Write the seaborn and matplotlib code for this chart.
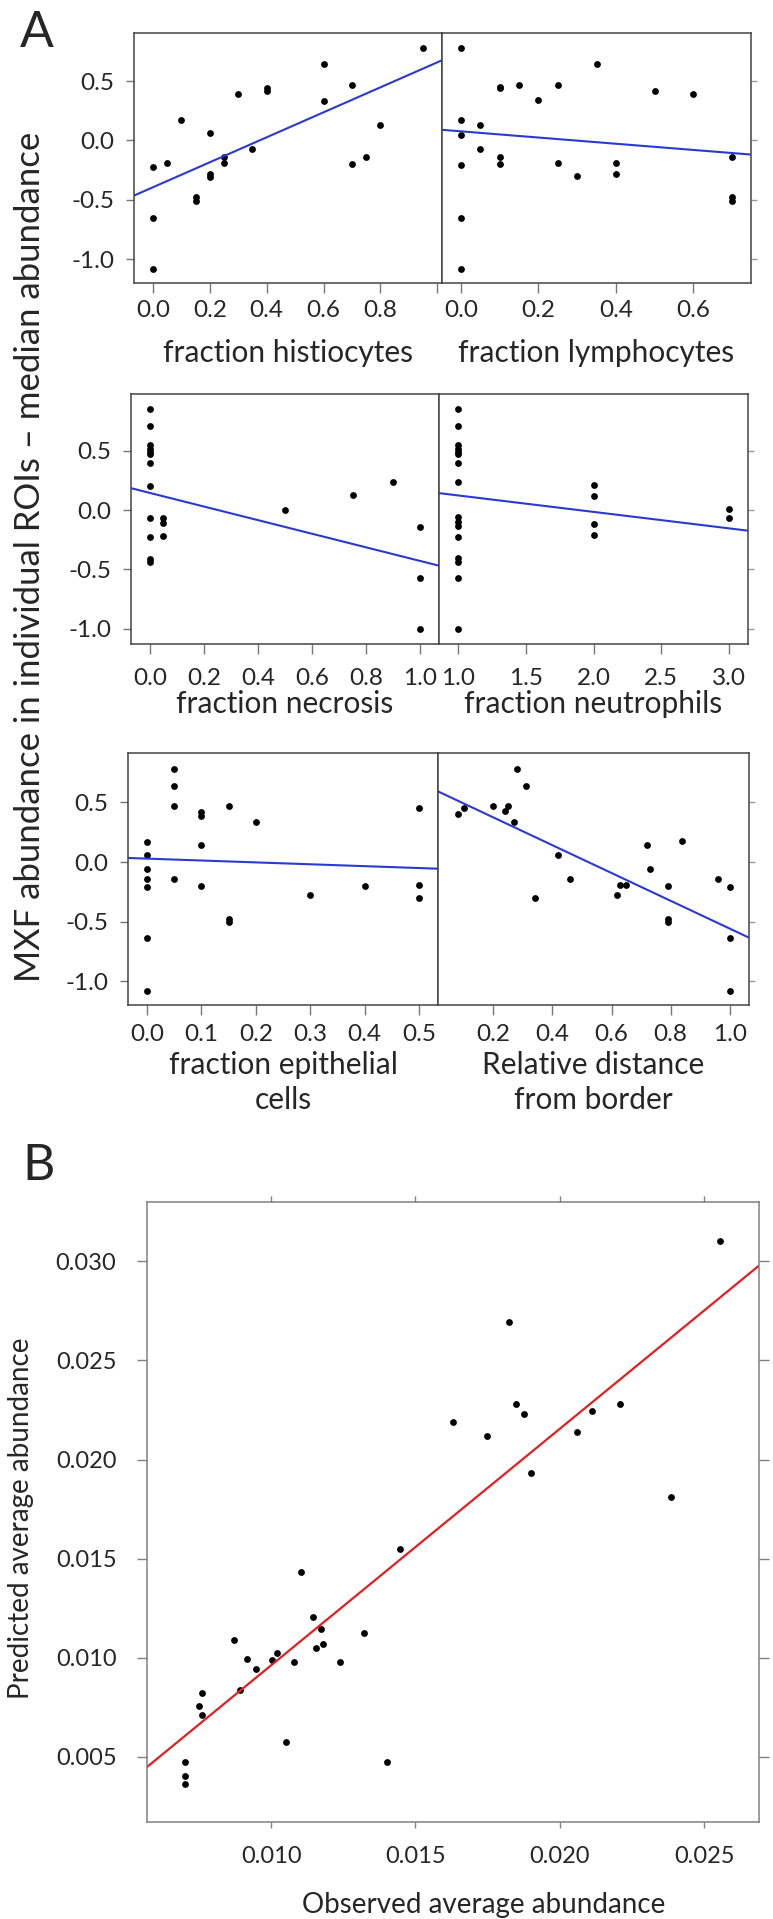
import numpy as np
import matplotlib
matplotlib.use("Agg")
import matplotlib.pyplot as plt
import seaborn as sns

# ---- panel A data (MXF abundance vs ROI features) ----
histio_x = [0, 0, 0, 0.05, 0.1, 0.15, 0.15, 0.2, 0.2, 0.2, 0.25, 0.25, 0.3, 0.35,
            0.4, 0.4, 0.6, 0.6, 0.7, 0.7, 0.75, 0.8, 0.95]
histio_y = [-0.22, -0.65, -1.08, -0.19, 0.17, -0.48, -0.51, 0.06, -0.28, -0.31, -0.14,
            -0.19, 0.39, -0.07, 0.44, 0.42, 0.64, 0.33, 0.47, -0.20, -0.14, 0.13, 0.78]

lymph_x = [0, 0, 0, 0, 0, 0, 0.05, 0.05, 0.1, 0.1, 0.1, 0.1, 0.15, 0.2, 0.25, 0.25,
           0.3, 0.35, 0.4, 0.4, 0.5, 0.6, 0.7, 0.7, 0.7]
lymph_y = [0.78, 0.17, 0.05, -0.21, -0.65, -1.08, 0.13, -0.07, 0.45, 0.44, -0.14, -0.20,
           0.47, 0.34, 0.47, -0.19, -0.30, 0.64, -0.19, -0.28, 0.42, 0.39, -0.14, -0.48, -0.51]

necro_x = [0, 0, 0, 0, 0, 0, 0, 0, 0, 0, 0, 0, 0.05, 0.05, 0.05, 0.5, 0.75, 0.9, 1.0, 1.0, 1.0]
necro_y = [0.85, 0.71, 0.55, 0.52, 0.49, 0.47, 0.40, 0.20, -0.07, -0.23, -0.41, -0.44,
           -0.07, -0.11, -0.22, 0.0, 0.13, 0.24, -0.14, -0.57, -1.0]

neutro_x = [1, 1, 1, 1, 1, 1, 1, 1, 1, 1, 1, 1, 1, 1, 1, 1, 2, 2, 2, 2, 3, 3]
neutro_y = [0.85, 0.71, 0.55, 0.52, 0.49, 0.47, 0.40, 0.24, -0.06, -0.10, -0.13, -0.23,
            -0.40, -0.44, -0.57, -1.0, 0.21, 0.12, -0.12, -0.21, 0.01, -0.07]

epi_x = [0, 0, 0, 0, 0, 0, 0, 0.05, 0.05, 0.05, 0.05, 0.1, 0.1, 0.1, 0.1,
         0.15, 0.15, 0.15, 0.2, 0.3, 0.4, 0.5, 0.5, 0.5]
epi_y = [0.17, 0.06, -0.06, -0.14, -0.21, -0.64, -1.08, 0.78, 0.64, 0.47, -0.14,
         0.42, 0.39, 0.14, -0.20, 0.47, -0.48, -0.50, 0.34, -0.28, -0.20, 0.45, -0.19, -0.30]

dist_x = [0.08, 0.10, 0.20, 0.24, 0.25, 0.27, 0.28, 0.31, 0.34, 0.42, 0.46, 0.62,
          0.63, 0.65, 0.72, 0.73, 0.79, 0.79, 0.79, 0.84, 0.96, 1.0, 1.0, 1.0]
dist_y = [0.40, 0.45, 0.47, 0.43, 0.47, 0.34, 0.78, 0.64, -0.30, 0.06, -0.14, -0.28,
          -0.19, -0.19, 0.14, -0.06, -0.20, -0.48, -0.50, 0.18, -0.14, -0.21, -0.64, -1.08]

# fitted lines as shown in the figure: (intercept, slope) per panel
fit_intercepts = [-0.394, 0.077, 0.145, 0.263, 0.0285, 0.608]
fit_slopes = [1.052, -0.261, -0.574, -0.139, -0.158, -1.167]

# ---- panel B data (observed vs predicted average abundance) ----
observed = [0.00700, 0.00700, 0.00700, 0.00750, 0.00759, 0.00759, 0.00872, 0.00892,
            0.00916, 0.00947, 0.01002, 0.01019, 0.01050, 0.01078, 0.01105, 0.01145,
            0.01154, 0.01173, 0.01181, 0.01237, 0.01321, 0.01401, 0.01445, 0.01631,
            0.01747, 0.01825, 0.01847, 0.01876, 0.01899, 0.02059, 0.02111, 0.02209,
            0.02384, 0.02555]
predicted = [0.00473, 0.00404, 0.00361, 0.00758, 0.00819, 0.00708, 0.01090, 0.00836,
             0.00993, 0.00943, 0.00987, 0.01025, 0.00572, 0.00977, 0.01430, 0.01206,
             0.01050, 0.01144, 0.01067, 0.00980, 0.01124, 0.00473, 0.01548, 0.02188,
             0.02117, 0.02695, 0.02282, 0.02231, 0.01933, 0.02137, 0.02245, 0.02278,
             0.01809, 0.03102]
b_intercept = -0.00233
b_slope = 1.194

a_yticks = [-1.0, -0.5, 0.0, 0.5]
a_yticklabels = ['-1.0', '-0.5', '0.0', '0.5']

sns.set_style("ticks")
plt.rcParams['font.family'] = ['Lato', 'DejaVu Sans']

W, H = 773, 1919
fig = plt.figure(figsize=(W / 100, H / 100), dpi=100)


def add_ax(x0, x1, y0, y1):
    # pixel box (top-left origin) -> figure axes
    return fig.add_axes([x0 / W, 1 - y1 / H, (x1 - x0) / W, (y1 - y0) / H])


def panel(ax, x, y, k, xlim, ylim, xticks, xticklabels, xlabel, left, xpad, labelpad):
    sns.scatterplot(x=x, y=y, ax=ax, s=24, color='black', linewidth=0)
    ax.axline((0, fit_intercepts[k]), slope=fit_slopes[k], color='#2a3ad0', lw=1.5)
    ax.set_xlim(xlim)
    ax.set_ylim(ylim)
    ax.set_xticks(xticks)
    ax.set_xticklabels(xticklabels)
    ax.set_yticks(a_yticks)
    for s in ax.spines.values():
        s.set_color('#444444')
        s.set_linewidth(1.1)
    ax.tick_params(axis='x', length=7, width=1, color='#777777', pad=xpad, labelsize=17.5)
    if left:
        ax.set_yticklabels(a_yticklabels)
        ax.tick_params(axis='y', length=6, width=1, color='#777777', pad=8, labelsize=17.5)
    else:
        ax.tick_params(axis='y', left=False, labelleft=False, right=True,
                       length=4, width=1, color='#999999')
    ax.set_xlabel(xlabel, fontsize=21.5, labelpad=labelpad, linespacing=1.3)
    ax.set_ylabel('')


# row 1
ax = add_ax(134, 442, 33, 283)
panel(ax, histio_x, histio_y, 0, (-0.0665, 1.0165), (-1.2, 0.905),
      [0, 0.2, 0.4, 0.6, 0.8, 1.0], ['0.0', '0.2', '0.4', '0.6', '0.8', ''],
      'fraction histiocytes', True, 5, 13)
ax = add_ax(442, 751, 33, 283)
panel(ax, lymph_x, lymph_y, 1, (-0.049, 0.749), (-1.2, 0.905),
      [0, 0.2, 0.4, 0.6], ['0.0', '0.2', '0.4', '0.6'],
      'fraction lymphocytes', False, 5, 13)

# row 2
ax = add_ax(131, 439, 394, 644)
panel(ax, necro_x, necro_y, 2, (-0.07, 1.07), (-1.13, 0.98),
      [0, 0.2, 0.4, 0.6, 0.8, 1.0], ['0.0', '0.2', '0.4', '0.6', '0.8', '1.0'],
      'fraction necrosis', True, 10, 1)
ax = add_ax(439, 748, 394, 644)
panel(ax, neutro_x, neutro_y, 3, (0.86, 3.14), (-1.13, 0.98),
      [1.0, 1.5, 2.0, 2.5, 3.0], ['1.0', '1.5', '2.0', '2.5', '3.0'],
      'fraction neutrophils', False, 10, 1)

# row 3
ax = add_ax(128, 438, 753, 1005)
panel(ax, epi_x, epi_y, 4, (-0.035, 0.535), (-1.2, 0.915),
      [0, 0.1, 0.2, 0.3, 0.4, 0.5], ['0.0', '0.1', '0.2', '0.3', '0.4', '0.5'],
      'fraction epithelial\ncells', True, 7, 4)
ax = add_ax(438, 749, 753, 1005)
panel(ax, dist_x, dist_y, 5, (0.013, 1.065), (-1.2, 0.915),
      [0.2, 0.4, 0.6, 0.8, 1.0], ['0.2', '0.4', '0.6', '0.8', '1.0'],
      'Relative distance\nfrom border', False, 7, 4)

fig.text(30 / W, 1 - 557 / H, 'MXF abundance in individual ROIs \u2013 median abundance',
         rotation=90, ha='center', va='center', fontsize=25)
fig.text(20 / W, 1 - 47 / H, 'A', fontsize=36, ha='left', va='baseline')

# panel B
axb = add_ax(147, 759, 1202, 1822)
sns.scatterplot(x=observed, y=predicted, ax=axb, s=24, color='black', linewidth=0)
axb.axline((0, b_intercept), slope=b_slope, color='#e02020', lw=1.6)
axb.set_xlim(0.0057, 0.0269)
axb.set_ylim(0.0017, 0.0330)
axb.set_xticks([0.010, 0.015, 0.020, 0.025])
axb.set_xticklabels(['0.010', '0.015', '0.020', '0.025'])
axb.set_yticks([0.005, 0.010, 0.015, 0.020, 0.025, 0.030])
axb.set_yticklabels(['0.005', '0.010', '0.015', '0.020', '0.025', '0.030'])
for s in axb.spines.values():
    s.set_color('#808080')
    s.set_linewidth(1.1)
axb.tick_params(axis='x', length=4, width=1, color='#808080', pad=13, labelsize=17,
                top=True)
axb.tick_params(axis='y', length=7, width=1, color='#808080', pad=15, labelsize=17,
                right=True)
axb.set_xlabel('Observed average abundance', fontsize=20)
axb.set_ylabel('Predicted average abundance', fontsize=20)
axb.xaxis.set_label_coords(0.55, -0.113)
axb.yaxis.set_label_coords(-0.185, 0.49)
fig.text(22 / W, 1 - 1180 / H, 'B', fontsize=36, ha='left', va='baseline')

fig.savefig('out.png', dpi=100)
